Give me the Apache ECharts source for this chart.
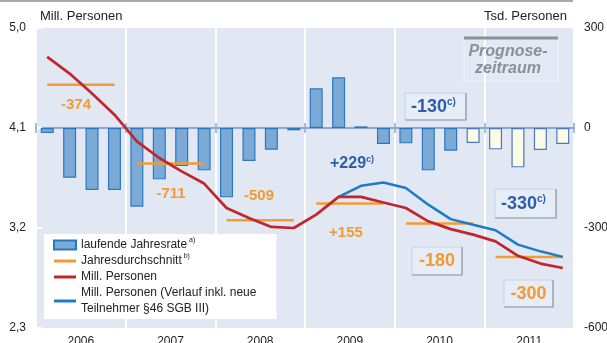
<!DOCTYPE html>
<html>
<head>
<meta charset="utf-8">
<script src="https://cdn.jsdelivr.net/npm/echarts@6/dist/echarts.min.js"></script>
<style>
  html, body { margin: 0; padding: 0; background: #fff; }
  #chart { width: 607px; height: 343px; }
</style>
</head>
<body>
<div id="chart"></div>
<script>
// Years and quarterly categories
const years = ['2006', '2007', '2008', '2009', '2010', '2011'];
const quarterNames = ['I', 'II', 'III', 'IV'];
const quarters = years.flatMap(y => quarterNames.map(q => y + ' ' + q));

// Laufende Jahresrate (Tsd. Personen), one value per quarter
const jahresrate = [
  -15, -149, -186, -186,
  -236, -154, -114, -127,
  -208, -99, -65, -7,
  119, 152, 5, -48,
  -46, -127, -68, -45,
  -64, -118, -66, -48
];
// First quarter of the forecast period (2010 IV)
const prognoseStart = 19;

// Jahresdurchschnitt (Mill. Personen), one value per year
const jahresdurchschnitt = [4.49, 3.78, 3.27, 3.42, 3.24, 2.94];

// Mill. Personen, quarterly
const millPersonen = [
  4.74, 4.59, 4.41, 4.22,
  3.98, 3.83, 3.71, 3.60,
  3.38, 3.29, 3.21, 3.20,
  3.32, 3.48, 3.48, 3.43,
  3.38, 3.26, 3.19, 3.14,
  3.08, 2.95, 2.88, 2.84
];

// Mill. Personen incl. new participants (§46 SGB III), from 2009 II
const millPersonenInkl = [
  null, null, null, null,
  null, null, null, null,
  null, null, null, null,
  null, 3.48, 3.58, 3.61,
  3.56, 3.41, 3.28, 3.23,
  3.18, 3.05, 2.99, 2.94
];

// Year-on-year changes (Tsd. Personen)
const veraenderung = ['-374', '-711', '-509', '+155', '-180', '-300'];
const veraenderungInkl = ['+229', '-130', '-330'];

// Axis tick labels
const leftTicks = ['2,3', '3,2', '4,1', '5,0'];
const rightTicks = ['-600', '-300', '0', '300'];

const NAME_BAR = 'laufende Jahresrate';
const NAME_AVG = 'Jahresdurchschnitt';
const NAME_MP = 'Mill. Personen';
const NAME_MP2 = 'Mill. Personen (Verlauf inkl. neue Teilnehmer §46 SGB III)';

const FONT = '"Liberation Sans", Arial, sans-serif';
const ORANGE = '#F39A33';
const RED = '#BF262D';
const BLUE_LINE = '#1E7CC6';
const BLUE_TEXT = '#2F5EA8';
const AXIS_BLUE = '#8FA6D4';
const LINE_ICON = 'path://M0,0h22v3H0z';

const chart = echarts.init(document.getElementById('chart'));

const isYearStart = (i) => i % 4 === 0;

const avgSeries = years.map((y, k) => ({
  name: NAME_AVG,
  type: 'line',
  xAxisIndex: 0,
  yAxisIndex: 0,
  symbol: 'none',
  silent: true,
  z: 3,
  lineStyle: { color: ORANGE, width: 2.5 },
  itemStyle: { color: ORANGE },
  data: quarters.map((q, i) => (Math.floor(i / 4) === k ? jahresdurchschnitt[k] : null))
}));

// Annotation helpers
function framedBox(x, y, w, h) {
  return [
    { type: 'rect', shape: { x: x, y: y, width: w, height: h },
      style: { fill: 'rgba(236,241,249,0.55)', stroke: '#C8D1E0', lineWidth: 1 }, z: 20 },
    { type: 'polyline', shape: { points: [[x + w, y], [x + w, y + h], [x, y + h]] },
      style: { stroke: '#8E97A8', lineWidth: 1.2, fill: null }, z: 21 }
  ];
}
function plainLabel(text, cx, cy, color, size) {
  return { type: 'text', z: 22,
    style: { text: text, x: cx, y: cy, textAlign: 'center', textVerticalAlign: 'middle',
      fill: color, font: 'bold ' + size + 'px ' + FONT } };
}
function supLabel(text, x, cy, size) {
  return { type: 'text', z: 22,
    style: { text: '{v|' + text + '}{s|c)}', x: x, y: cy, textAlign: 'left', textVerticalAlign: 'middle',
      rich: {
        v: { fontSize: size, fontWeight: 'bold', fontFamily: FONT, fill: BLUE_TEXT, lineHeight: size + 2 },
        s: { fontSize: Math.round(size * 0.58), fontWeight: 'bold', fontFamily: FONT, fill: BLUE_TEXT,
             verticalAlign: 'top', lineHeight: size * 0.6 }
      } } };
}

const graphics = [
  // thin rule across the top
  { type: 'rect', shape: { x: 0, y: 0, width: 573, height: 2 }, style: { fill: '#A9A9A9' }, z: 30 },
  // forecast period box
  { type: 'rect', shape: { x: 464, y: 38, width: 94, height: 43 },
    style: { fill: 'rgba(255,255,255,0.08)', stroke: '#EEF2F8', lineWidth: 1 }, z: 20 },
  { type: 'line', shape: { x1: 464, y1: 38, x2: 558, y2: 38 },
    style: { stroke: '#8C9097', lineWidth: 3 }, z: 21 },
  { type: 'text', z: 22,
    style: { text: 'Prognose-\nzeitraum', x: 508, y: 43, textAlign: 'center', textVerticalAlign: 'top',
      fill: '#8B8F97', font: 'italic bold 16px ' + FONT, lineHeight: 17 } },
  // year changes (orange)
  plainLabel(veraenderung[0], 76, 105, ORANGE, 15),
  plainLabel(veraenderung[1], 171, 194, ORANGE, 15),
  plainLabel(veraenderung[2], 259, 196, ORANGE, 15),
  plainLabel(veraenderung[3], 346, 233, ORANGE, 15),
  ...framedBox(412, 247, 50, 28),
  plainLabel(veraenderung[4], 437, 261.5, ORANGE, 18),
  ...framedBox(504, 280, 49, 27),
  plainLabel(veraenderung[5], 528.5, 294, ORANGE, 18),
  // year changes incl. new participants (blue)
  supLabel(veraenderungInkl[0], 330, 164, 16),
  ...framedBox(405, 93, 61, 27),
  supLabel(veraenderungInkl[1], 411, 107, 18),
  ...framedBox(495, 189, 61, 29),
  supLabel(veraenderungInkl[2], 501, 204, 18)
];

const option = {
  animation: false,
  textStyle: { fontFamily: FONT },
  grid: {
    left: 36, right: 33, top: 28, bottom: 15,
    outerBoundsMode: 'none',
    containLabel: false,
    show: true, backgroundColor: '#E1E8F3', borderWidth: 0
  },
  legend: {
    orient: 'vertical',
    left: 44, top: 234,
    padding: [3, 20, 2, 9],
    backgroundColor: '#ffffff',
    itemWidth: 22, itemHeight: 9, itemGap: 0,
    selectedMode: false,
    textStyle: {
      fontSize: 12, color: '#222', lineHeight: 16, fontFamily: FONT,
      rich: { sup: { fontSize: 7, color: '#222', verticalAlign: 'top', lineHeight: 10, padding: [0, 0, 0, 2] } }
    },
    data: [
      { name: NAME_BAR, icon: 'rect' },
      { name: NAME_AVG, icon: LINE_ICON },
      { name: NAME_MP, icon: LINE_ICON },
      { name: NAME_MP2, icon: LINE_ICON }
    ],
    formatter: (name) => {
      if (name === NAME_BAR) return name + '{sup|a)}';
      if (name === NAME_AVG) return name + '{sup|b)}';
      if (name === NAME_MP2) return 'Mill. Personen (Verlauf inkl. neue\nTeilnehmer §46 SGB III)';
      return name;
    }
  },
  xAxis: [
    {
      type: 'category', data: quarters, position: 'bottom',
      axisLine: { onZero: true, onZeroAxisIndex: 1, lineStyle: { color: AXIS_BLUE, width: 2 } },
      axisTick: { show: true, interval: (i) => isYearStart(i), length: 5, lineStyle: { color: AXIS_BLUE, width: 1.5 } },
      axisLabel: { show: false },
      splitLine: { show: false }
    },
    {
      type: 'category', data: years, position: 'bottom',
      axisLine: { show: false, onZero: false },
      axisTick: { show: false },
      axisLabel: { margin: 8, fontSize: 12, color: '#222' },
      splitLine: { show: true, lineStyle: { color: '#ffffff', width: 2 } }
    },
    {
      type: 'category', data: quarters, position: 'bottom',
      axisLine: { show: false, onZero: true, onZeroAxisIndex: 1 },
      axisTick: { show: true, inside: true, interval: (i) => isYearStart(i), length: 5, lineStyle: { color: AXIS_BLUE, width: 1.5 } },
      axisLabel: { show: false },
      splitLine: { show: false }
    }
  ],
  yAxis: [
    {
      type: 'value', position: 'left', min: 2.3, max: 5.0, interval: 0.9,
      name: 'Mill. Personen', nameLocation: 'end', nameGap: 5,
      nameTextStyle: { align: 'left', fontSize: 13, color: '#222', padding: [0, 0, 0, 4] },
      axisLine: { show: false },
      axisTick: { show: true, inside: true, length: 6, lineStyle: { color: '#ffffff', width: 2 } },
      axisLabel: { margin: 10, fontSize: 12, color: '#222',
        formatter: (v) => leftTicks[Math.round((v - 2.3) / 0.9)] },
      splitLine: { show: false }
    },
    {
      type: 'value', position: 'right', min: -600, max: 300, interval: 300,
      name: 'Tsd. Personen', nameLocation: 'end', nameGap: 5,
      nameTextStyle: { align: 'right', fontSize: 13, color: '#222', padding: [0, 7, 0, 0] },
      axisLine: { show: false },
      axisTick: { show: false },
      axisLabel: { margin: 10, fontSize: 12, color: '#222',
        formatter: (v) => rightTicks[Math.round((v + 600) / 300)] },
      splitLine: { show: false }
    }
  ],
  series: [
    {
      name: NAME_BAR, type: 'bar', xAxisIndex: 0, yAxisIndex: 1,
      barWidth: 13, z: 2,
      itemStyle: { color: '#7BAAD7', borderColor: '#2D77BF', borderWidth: 1.2 },
      data: jahresrate.map((v, i) => i >= prognoseStart
        ? { value: v, itemStyle: { color: '#FBFBE6', borderColor: '#4A79BD', borderWidth: 1.2 } }
        : v)
    },
    ...avgSeries,
    {
      name: NAME_MP2, type: 'line', xAxisIndex: 0, yAxisIndex: 0,
      symbol: 'none', z: 4,
      lineStyle: { color: BLUE_LINE, width: 2.5 },
      itemStyle: { color: BLUE_LINE },
      data: millPersonenInkl
    },
    {
      name: NAME_MP, type: 'line', xAxisIndex: 0, yAxisIndex: 0,
      symbol: 'none', z: 5,
      lineStyle: { color: RED, width: 2.7 },
      itemStyle: { color: RED },
      data: millPersonen
    }
  ],
  graphic: graphics
};

chart.setOption(option);
</script>
</body>
</html>
